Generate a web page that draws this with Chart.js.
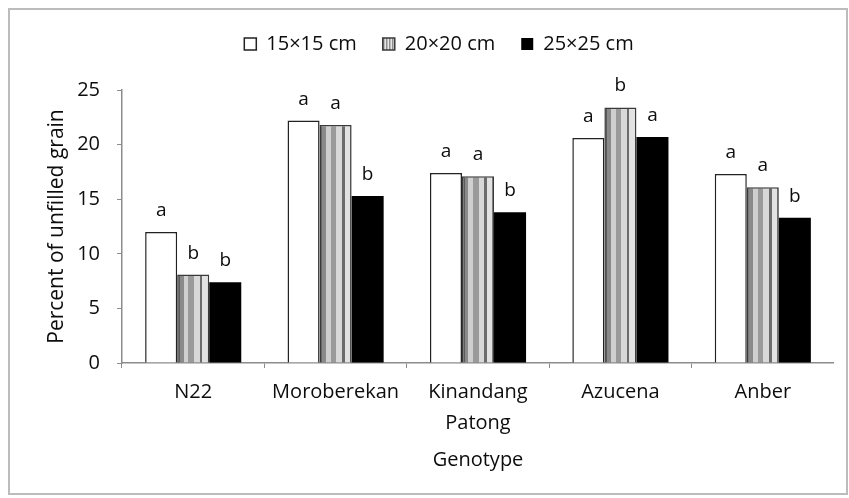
<!DOCTYPE html>
<html>
<head>
<meta charset="utf-8">
<script src="https://cdn.jsdelivr.net/npm/chart.js@4.4.1/dist/chart.umd.min.js"></script>
<style>
  html, body { margin: 0; padding: 0; background: #ffffff; }
  body { width: 849px; height: 498px; position: relative; overflow: hidden; }
  #frame { position: absolute; left: 8px; top: 8px; width: 836px; height: 483px; border: 2px solid #bcbcbc; }
  #wrap { position: absolute; left: 0; top: 0; width: 834px; height: 498px; }
</style>
</head>
<body>
<div id="frame"></div>
<div id="wrap"><canvas id="chart"></canvas></div>
<script>
// Unfilled grain (%) by genotype under three plant spacings
const genotypes = ['N22', 'Moroberekan', ['Kinandang', 'Patong'], 'Azucena', 'Anber'];
const spacingNames = ['15×15 cm', '20×20 cm', '25×25 cm'];
const spacing15 = [12.0, 22.2, 17.4, 20.6, 17.3];
const spacing20 = [8.1, 21.8, 17.1, 23.4, 16.1];
const spacing25 = [7.4, 15.3, 13.8, 20.7, 13.3];
// significance letters shown above each bar
const letters15 = ['a', 'a', 'a', 'a', 'a'];
const letters20 = ['b', 'a', 'a', 'b', 'a'];
const letters25 = ['b', 'b', 'b', 'a', 'b'];
const yTicks = [0, 5, 10, 15, 20, 25];

const CAT_PCT = 0.675;
const AXIS_GREY = '#8c8c8c';
const TEXT = '#0d0d0d';
const FONT = '"Open Sans", "DejaVu Sans", sans-serif';

// small repeating vertical-stripe swatch for the legend box
let legendStripes = null;
function getLegendStripes(ctx) {
  if (legendStripes) return legendStripes;
  const c = document.createElement('canvas');
  c.width = 3; c.height = 1;
  const g = c.getContext('2d');
  ['#bdbdbd', '#e6e6e6', '#8f8f8f'].forEach((col, i) => {
    g.fillStyle = col; g.fillRect(i, 0, 1, 1);
  });
  legendStripes = ctx.createPattern(c, 'repeat');
  return legendStripes;
}

// striped grey fill spanning one bar of the middle series
const stripeStops = [
  [0.00, '#5a5a5a'], [0.08, '#8a8a8a'], [0.20, '#cfcfcf'], [0.35, '#9a9a9a'],
  [0.52, '#d8d8d8'], [0.70, '#6c6c6c'], [0.78, '#e2e2e2'], [0.95, '#5a5a5a']
];
function stripedFill(context) {
  const chart = context.chart;
  const xs = chart.scales && chart.scales.x;
  if (context.type !== 'data' || !xs) return getLegendStripes(chart.ctx);
  const center = xs.getPixelForValue(context.dataIndex);
  const barW = (xs.width / genotypes.length) * CAT_PCT / 3;
  if (!Number.isFinite(center) || !Number.isFinite(barW) || barW <= 0) return '#a8a8a8';
  const x0 = center - barW / 2;
  const grad = chart.ctx.createLinearGradient(x0, 0, x0 + barW, 0);
  for (let i = 0; i < stripeStops.length; i++) {
    const [pos, col] = stripeStops[i];
    const next = i + 1 < stripeStops.length ? stripeStops[i + 1][0] : 1;
    grad.addColorStop(pos, col);
    grad.addColorStop(Math.max(pos, next - 0.001), col);
  }
  return grad;
}

// writes the significance letter above every bar
const letterPlugin = {
  id: 'barLetters',
  afterDatasetsDraw(chart) {
    const sets = [letters15, letters20, letters25];
    const ctx = chart.ctx;
    ctx.save();
    ctx.font = '19px ' + FONT;
    ctx.fillStyle = TEXT;
    ctx.textAlign = 'center';
    ctx.textBaseline = 'alphabetic';
    chart.data.datasets.forEach((ds, di) => {
      chart.getDatasetMeta(di).data.forEach((bar, i) => {
        ctx.fillText(sets[di][i], bar.x, bar.y - 16);
      });
    });
    ctx.restore();
  }
};

// extra room between the legend and the plot
const legendSpacer = {
  id: 'legendSpacer',
  beforeInit(chart) {
    const fit = chart.legend.fit;
    chart.legend.fit = function () {
      fit.call(this);
      this.height += 26;
    };
  }
};

function draw() {
  new Chart(document.getElementById('chart'), {
    type: 'bar',
    data: {
      labels: genotypes,
      datasets: [
        { label: spacingNames[0], data: spacing15, backgroundColor: '#ffffff', borderColor: '#222222', borderWidth: 1.5 },
        { label: spacingNames[1], data: spacing20, backgroundColor: stripedFill, borderColor: '#3a3a3a', borderWidth: 1.5 },
        { label: spacingNames[2], data: spacing25, backgroundColor: '#000000', borderColor: '#000000', borderWidth: 0 }
      ]
    },
    options: {
      responsive: true,
      maintainAspectRatio: false,
      animation: false,
      devicePixelRatio: 1,
      layout: { padding: { left: 44, right: 0, top: 8, bottom: 0 } },
      datasets: { bar: { categoryPercentage: CAT_PCT, barPercentage: 1.0 } },
      plugins: {
        legend: {
          position: 'top',
          labels: {
            boxWidth: 12, boxHeight: 12, padding: 26, color: TEXT,
            font: { family: FONT, size: 20 },
            generateLabels(chart) {
              const items = Chart.defaults.plugins.legend.labels.generateLabels(chart);
              if (items[1]) items[1].fillStyle = getLegendStripes(chart.ctx);
              return items;
            }
          }
        },
        tooltip: { enabled: false }
      },
      scales: {
        x: {
          afterFit(scale) { scale.height = 135; },
          grid: { drawOnChartArea: false, drawTicks: true, tickLength: 5, color: AXIS_GREY, offset: true },
          border: { display: true, color: AXIS_GREY, width: 1.5 },
          ticks: { color: TEXT, padding: 9, font: { family: FONT, size: 20, lineHeight: 1.55 } },
          title: { display: true, text: 'Genotype', color: TEXT, padding: { top: 0, bottom: 26 }, font: { family: FONT, size: 20, lineHeight: 1.2 } }
        },
        y: {
          min: 0, max: 25,
          afterFit(scale) { scale.width = 78; },
          afterBuildTicks(scale) { scale.ticks = yTicks.map(v => ({ value: v })); },
          grid: { drawOnChartArea: false, drawTicks: true, tickLength: 5, color: AXIS_GREY },
          border: { display: true, color: AXIS_GREY, width: 1.5 },
          ticks: { color: TEXT, padding: 17, font: { family: FONT, size: 20 } },
          title: { display: true, text: 'Percent of unfilled grain', color: TEXT, padding: { top: 0, bottom: 0 }, font: { family: FONT, size: 21, lineHeight: 1.2 } }
        }
      }
    },
    plugins: [legendSpacer, letterPlugin]
  });
}

if (document.fonts && document.fonts.load) {
  Promise.all([document.fonts.load('20px "Open Sans"'), document.fonts.load('19px "Open Sans"')])
    .then(draw, draw);
} else {
  draw();
}
</script>
</body>
</html>
